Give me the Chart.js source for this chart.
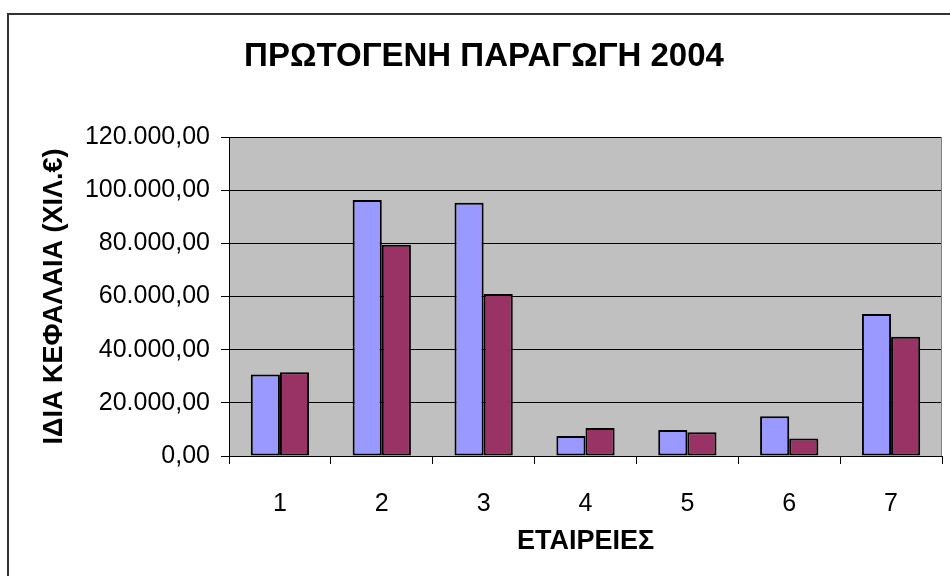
<!DOCTYPE html>
<html>
<head>
<meta charset="utf-8">
<script src="https://cdn.jsdelivr.net/npm/chart.js@4/dist/chart.umd.min.js"></script>
<style>
  html, body { margin: 0; padding: 0; background: #fff; }
  canvas { display: block; }
</style>
</head>
<body>
<canvas id="c" width="950" height="576"></canvas>
<script>
const categories = ['1', '2', '3', '4', '5', '6', '7'];
const series1 = [30700, 96300, 95300, 7500, 9800, 15000, 53400];
const series2 = [31500, 79500, 60900, 10500, 8900, 6600, 44900];
const yTickLabels = ['0,00', '20.000,00', '40.000,00', '60.000,00', '80.000,00', '100.000,00', '120.000,00'];

const FONT = "'Liberation Sans', Arial, sans-serif";

const framePlugin = {
  id: 'frame',
  beforeDraw(chart) {
    const ctx = chart.ctx;
    const a = chart.chartArea;
    ctx.save();
    ctx.fillStyle = '#ffffff';
    ctx.fillRect(0, 0, chart.width, chart.height);
    ctx.strokeStyle = '#333333';
    ctx.lineWidth = 2;
    ctx.strokeRect(8, 14, 1000, 1000);
    ctx.fillStyle = '#C0C0C0';
    ctx.fillRect(a.left, a.top, a.right - a.left, a.bottom - a.top);
    ctx.restore();
  },
  afterDatasetsDraw(chart) {
    const ctx = chart.ctx;
    const a = chart.chartArea;
    ctx.save();
    ctx.strokeStyle = '#808080';
    ctx.lineWidth = 1;
    ctx.beginPath();
    ctx.moveTo(a.right - 0.5, a.top);
    ctx.lineTo(a.right - 0.5, a.bottom);
    ctx.stroke();
    ctx.restore();
  }
};

new Chart(document.getElementById('c'), {
  type: 'bar',
  data: {
    labels: categories,
    datasets: [
      { data: series1, backgroundColor: '#9999FF', borderColor: '#000000', borderWidth: 2, borderSkipped: false,
        categoryPercentage: 0.572, barPercentage: 1.0 },
      { data: series2, backgroundColor: '#993366', borderColor: '#000000', borderWidth: 2, borderSkipped: false,
        categoryPercentage: 0.572, barPercentage: 1.0 }
    ]
  },
  options: {
    responsive: false,
    animation: false,
    layout: { padding: { left: 26, right: 8, top: 0, bottom: 0 } },
    plugins: {
      legend: { display: false },
      tooltip: { enabled: false },
      title: {
        display: true,
        text: 'ΠΡΩΤΟΓΕΝΗ ΠΑΡΑΓΩΓΗ 2004',
        color: '#000',
        font: { family: FONT, size: 33, weight: 'bold', lineHeight: 1.2 },
        padding: { top: 37.2, bottom: 60.2 }
      }
    },
    scales: {
      x: {
        afterFit(scale) { scale.height = 120; },
        grid: { display: true, drawOnChartArea: false, drawTicks: true, tickLength: 8, color: '#000', offset: true },
        border: { display: true, color: '#000', width: 1 },
        ticks: { color: '#000', padding: 25, font: { family: FONT, size: 25 }, maxRotation: 0 },
        title: {
          display: true, text: 'ΕΤΑΙΡΕΙΕΣ', color: '#000',
          font: { family: FONT, size: 27, weight: 'bold', lineHeight: 1.2 },
          padding: { top: 0, bottom: 18 }
        }
      },
      y: {
        min: 0, max: 120000,
        afterFit(scale) { scale.width = 203; },
        grid: { display: true, drawOnChartArea: true, drawTicks: true, tickLength: 8, color: '#000', lineWidth: 1 },
        border: { display: true, color: '#000', width: 1 },
        ticks: {
          stepSize: 20000, color: '#000', padding: 11,
          font: { family: FONT, size: 25 },
          callback: (v, i) => yTickLabels[i]
        },
        title: {
          display: true, text: 'ΙΔΙΑ ΚΕΦΑΛΑΙΑ (ΧΙΛ.€)', color: '#000',
          font: { family: FONT, size: 27, weight: 'bold', lineHeight: 1.2 },
          padding: { top: 12.8, bottom: 0 }
        }
      }
    }
  },
  plugins: [framePlugin]
});
</script>
</body>
</html>
